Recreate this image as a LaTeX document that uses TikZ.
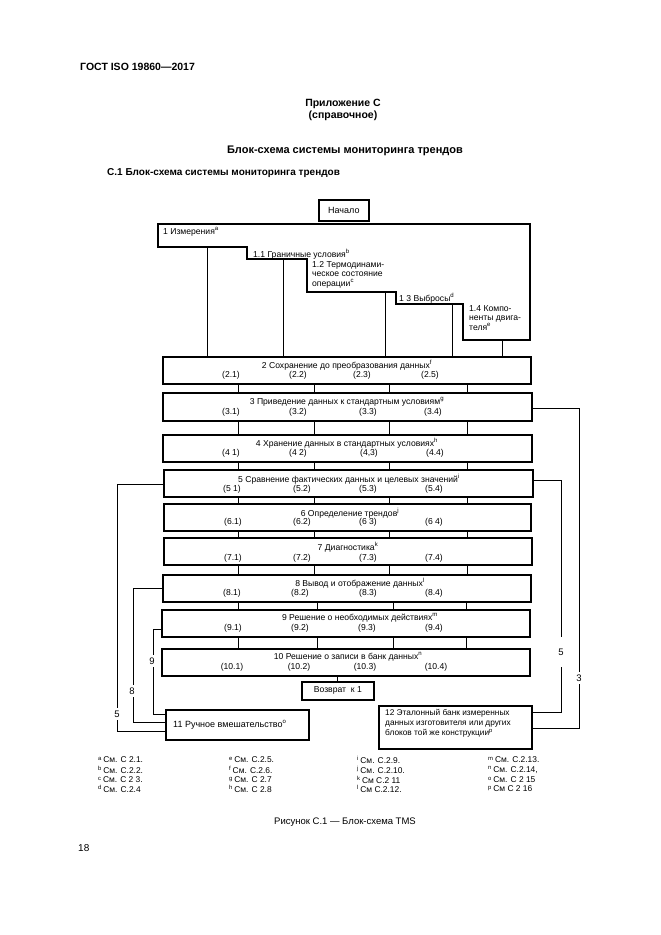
\documentclass[tikz,border=0pt]{standalone}
\usepackage{fontspec}
\setmainfont{Liberation Sans}
\begin{document}
\begin{tikzpicture}[x=1pt,y=-1pt,
  box/.style={draw, line width=1.7pt, inner sep=0pt, anchor=north west},
  conn/.style={line width=0.8pt},
  dtxt/.style={font=\fontsize{8.6}{9.6}\selectfont, inner sep=0pt},
  ltxt/.style={dtxt, anchor=west},
  mtxt/.style={dtxt, anchor=north west, align=left},
  lab/.style={font=\fontsize{9.5}{10}\selectfont, fill=white, inner xsep=1pt, inner ysep=3pt},
  foot/.style={font=\fontsize{8.4}{9}\selectfont, inner sep=0pt, anchor=west},
  head/.style={font=\bfseries\fontsize{10.5}{12}\selectfont, inner sep=0pt},
]
\useasboundingbox (0,0) rectangle (661,935);
\fill[white] (0,0) rectangle (661,935);

% headings
\node[head, anchor=west] (gost) at (80,67) {ГОСТ ISO 19860—2017};
\node[head] (app) at (343,104) {Приложение С};
\node[head] (appb) at (343,116) {(справочное)};
\node[head, font=\bfseries\fontsize{11}{12}\selectfont] (title) at (345,151) {Блок-схема системы мониторинга трендов};
\node[head, anchor=west, font=\bfseries\fontsize{10}{12}\selectfont] (sub) at (107,173) {С.1 Блок-схема системы мониторинга трендов};

% start
\node[box, minimum width=50pt, minimum height=21pt] (start) at (318,199) {};
\node[dtxt, font=\fontsize{9}{10}\selectfont] (starttxt) at (start.center) {Начало};

% box 1 (staircase)
\draw[line width=1.7pt] (158,224) -- (530,224) -- (530,340) -- (463,340) -- (463,304)
  -- (396,304) -- (396,292) -- (307,292) -- (307,259) -- (247,259) -- (247,247)
  -- (158,247) -- cycle;
\coordinate (s0) at (207,247);
\coordinate (s1) at (283,259);
\coordinate (s2) at (385,292);
\coordinate (s3) at (452,304);
\coordinate (s4) at (502,340);
\node[ltxt] (t1) at (163,232) {1 Измерения\textsuperscript{a}};
\node[ltxt] (t11) at (253,254) {1.1 Граничные условия\textsuperscript{b}};
\node[mtxt] (t12) at (312,261) {1.2 Термодинами-\\ческое состояние\\операции\textsuperscript{c}};
\node[ltxt] (t13) at (399,298) {1 3 Выбросы\textsuperscript{d}};
\node[mtxt] (t14) at (469,305) {1.4 Компо-\\ненты двига-\\теля\textsuperscript{e}};

% boxes 2..10
\node[box, minimum width=368pt, minimum height=27pt] (b2) at (162,356) {};
\node[box, minimum width=369pt, minimum height=28pt] (b3) at (162,392) {};
\node[box, minimum width=369pt, minimum height=27pt] (b4) at (162,434) {};
\node[box, minimum width=369pt, minimum height=27pt] (b5) at (163,469) {};
\node[box, minimum width=367pt, minimum height=27pt] (b6) at (163,503) {};
\node[box, minimum width=368pt, minimum height=27pt] (b7) at (163,537) {};
\node[box, minimum width=368pt, minimum height=27pt] (b8) at (162,574) {};
\node[box, minimum width=368pt, minimum height=27pt] (b9) at (161,609) {};
\node[box, minimum width=368pt, minimum height=27pt] (b10) at (161,648) {};

\node[dtxt] (b2t) at (347,365) {2 Сохранение до преобразования данных\textsuperscript{f}};
\node[dtxt] (b3t) at (347,402) {3 Приведение данных к стандартным условиям\textsuperscript{g}};
\node[dtxt] (b4t) at (347,443) {4 Хранение данных в стандартных условиях\textsuperscript{h}};
\node[dtxt] (b5t) at (349,479) {5 Сравнение фактических данных и целевых значений\textsuperscript{i}};
\node[dtxt] (b6t) at (350,513) {6 Определение трендов\textsuperscript{j}};
\node[dtxt] (b7t) at (348,547) {7 Диагностика\textsuperscript{k}};
\node[dtxt] (b8t) at (360,583) {8 Вывод и отображение данных\textsuperscript{l}};
\node[dtxt] (b9t) at (360,618) {9 Решение о необходимых действиях\textsuperscript{m}};
\node[dtxt] (b10t) at (348,657) {10 Решение о записи в банк данных\textsuperscript{n}};

% sub labels
\foreach \n/\t/\x/\y in {
  2a/(2.1)/231/375, 2b/(2.2)/298/375, 2c/(2.3)/362/375, 2d/(2.5)/430/375,
  3a/(3.1)/231/412, 3b/(3.2)/298/412, 3c/(3.3)/368/412, 3d/(3.4)/433/412,
  4a/(4 1)/231/453, 4b/(4 2)/298/453, 4c/{(4,3)}/369/453, 4d/(4.4)/435/453,
  5a/(5 1)/232/489, 5b/(5.2)/302/489, 5c/(5.3)/368/489, 5d/(5.4)/434/489,
  6a/(6.1)/233/522, 6b/(6.2)/302/522, 6c/(6 3)/368/522, 6d/(6 4)/434/522,
  7a/(7.1)/233/558, 7b/(7.2)/302/558, 7c/(7.3)/368/558, 7d/(7.4)/434/558,
  8a/(8.1)/232/593, 8b/(8.2)/300/593, 8c/(8.3)/368/593, 8d/(8.4)/434/593,
  9a/(9.1)/233/628, 9b/(9.2)/300/628, 9c/(9.3)/367/628, 9d/(9.4)/434/628,
  10a/(10.1)/232/667, 10b/(10.2)/299/667, 10c/(10.3)/365/667, 10d/(10.4)/436/667}
  \node[dtxt] (sl\n) at (\x,\y) {\t};

% connectors box1 -> box2
\foreach \s in {s0,s1,s2,s3,s4}
  \draw[conn] (\s) -- (\s |- b2.north);

% vertical connectors between boxes
\foreach \a/\b in {b2/b3,b3/b4,b4/b5,b5/b6,b6/b7,b7/b8}
  \foreach \x in {238,314,389,467}
    \draw[conn] (\a.south -| \x,0) -- (\b.north -| \x,0);
\foreach \a/\b in {b8/b9,b9/b10}
  \foreach \x in {238,317,393,466}
    \draw[conn] (\a.south -| \x,0) -- (\b.north -| \x,0);

% return
\node[box, minimum width=72pt, minimum height=18pt] (ret) at (301,681) {};
\node[dtxt] (rett) at (ret.center) {Возврат\ \ к 1};
\draw[conn] (b10.south -| ret.north) -- (ret.north);

% box 11, 12
\node[box, minimum width=143pt, minimum height=30pt] (b11) at (165,709) {};
\node[ltxt, font=\fontsize{9}{10}\selectfont] (b11t) at (173,725) {11 Ручное вмешательство\textsuperscript{o}};
\node[box, minimum width=153pt, minimum height=43pt] (b12) at (378,705) {};
\node[mtxt, font=\fontsize{8.3}{10}\selectfont] (b12t) at (385,709) {12 Эталонный банк измеренных\\данных изготовителя или других\\блоков той же конструкции\textsuperscript{p}};

% left feedback lines
\coordinate (l5) at (117,731);
\coordinate (l8) at (133,722);
\coordinate (l9) at (153,714);
\draw[conn] ([yshift=-1.5pt]b5.west) -| (l5) -- (l5 -| b11.west);
\draw[conn] (b8.west) -| (l8) -- (l8 -| b11.west);
\draw[conn] ([yshift=-6pt]b9.west) -| (l9) -- (l9 -| b11.west);
\node[lab] (lab5l) at (117,714) {5};
\node[lab] (lab8l) at (132,691) {8};
\node[lab] (lab9l) at (152,661) {9};

% right feedback lines
\coordinate (r3) at (579,728);
\coordinate (r5) at (561,712);
\draw[conn] ([yshift=-2pt]b3.east) -| (r3) -- (r3 -| b12.east);
\draw[conn] ([yshift=2.5pt]b5.east) -| (r5) -- (r5 -| b12.east);
\node[lab] (lab3r) at (579,678) {3};
\node[lab, minimum height=30pt] (lab5r) at (561,652) {5};

% footnotes
\node[foot] (fa) at (98,760) {\textsuperscript{a}\,См. С 2.1.};
\node[foot] (fb) at (98,770) {\textsuperscript{b}\,См. С.2.2.};
\node[foot] (fc) at (98,780) {\textsuperscript{c}\,См. С 2 3.};
\node[foot] (fd) at (98,789) {\textsuperscript{d}\,См. С.2.4};
\node[foot] (fe) at (229,760) {\textsuperscript{e}\,См. С.2.5.};
\node[foot] (ff) at (229,770) {\textsuperscript{f}\,См. С.2.6.};
\node[foot] (fg) at (229,780) {\textsuperscript{g}\,См. С 2.7};
\node[foot] (fh) at (229,789) {\textsuperscript{h}\,См. С 2.8};
\node[foot] (fi) at (357,760) {\textsuperscript{i}\,См. С.2.9.};
\node[foot] (fj) at (357,770) {\textsuperscript{j}\,См. С.2.10.};
\node[foot] (fk) at (357,780) {\textsuperscript{k}\,См С.2 11};
\node[foot] (fl) at (357,789) {\textsuperscript{l}\,См С.2.12.};
\node[foot] (fm) at (488,760) {\textsuperscript{m}\,См. С.2.13.};
\node[foot] (fn) at (488,770) {\textsuperscript{n}\,См. С.2.14,};
\node[foot] (fo) at (488,780) {\textsuperscript{o}\,См. С 2 15};
\node[foot] (fp) at (488,789) {\textsuperscript{p}\,См С 2 16};

% caption
\node[dtxt, font=\fontsize{9.5}{11}\selectfont] (cap) at (345,822) {Рисунок С.1 — Блок-схема TMS};
\node[dtxt, font=\fontsize{10}{11}\selectfont, anchor=west] (page) at (78,848) {18};
\end{tikzpicture}
\end{document}
